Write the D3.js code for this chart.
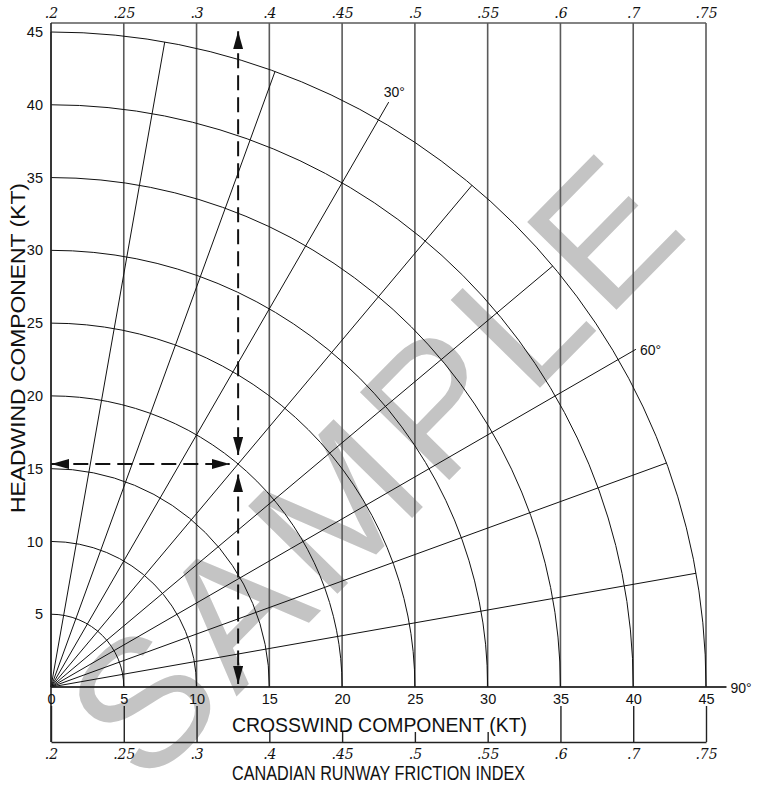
<!DOCTYPE html>
<html>
<head>
<meta charset="utf-8">
<script src="https://cdn.jsdelivr.net/npm/d3@7/dist/d3.min.js"></script>
<style>
  body { margin: 0; background: #fff; }
  text { font-family: "Liberation Sans", Arial, sans-serif; fill: #111; }
</style>
</head>
<body>
<svg id="chart" width="759" height="786"></svg>
<script>
// chart values
const crosswindTicks = [0, 5, 10, 15, 20, 25, 30, 35, 40, 45];
const frictionLabels = ['.2', '.25', '.3', '.4', '.45', '.5', '.55', '.6', '.7', '.75'];
const headwindTicks = [5, 10, 15, 20, 25, 30, 35, 40, 45];
const arcRadii = [5, 10, 15, 20, 25, 30, 35, 40, 45];
const radialAngles = [0, 10, 20, 30, 40, 50, 60, 70, 80, 90];
const labelledAngles = [30, 60, 90];
const exampleWind = {speed: 20, angle: 40};

const svg = d3.select('#chart');
svg.append('rect').attr('width', 759).attr('height', 786).attr('fill', '#fff');

const left = 51, bottom = 687, kt = 655 / 45;
const frameTop = 23, boxBottom = 742;
const maxR = 45, leaderR = 46.4;

const x = d3.scaleLinear().domain([0, 45]).range([left, left + 45 * kt]);
const y = d3.scaleLinear().domain([0, 45]).range([bottom, bottom - 45 * kt]);
const rad = d => d * Math.PI / 180;
const polar = (r, a) => [x(r * Math.sin(rad(a))), y(r * Math.cos(rad(a)))];

// watermark, under everything else
svg.append('text')
  .attr('transform', 'translate(372,466) rotate(-45.5)')
  .attr('text-anchor', 'middle')
  .attr('x', 4).attr('y', 65)
  .style('font-size', '182px')
  .style('letter-spacing', '8px')
  .style('fill', '#c4c4c4')
  .text('SAMPLE');

// vertical crosswind lines
svg.append('g').selectAll('line')
  .data(crosswindTicks.slice(1))
  .join('line')
  .attr('x1', d => x(d)).attr('x2', d => x(d))
  .attr('y1', y(0)).attr('y2', frameTop)
  .attr('stroke', '#5a5a5a').attr('stroke-width', 1.6);

// quarter arcs
svg.append('g').selectAll('path')
  .data(arcRadii)
  .join('path')
  .attr('d', d => {
    const p = d3.path();
    const r = x(d) - x(0);
    p.moveTo(x(0), y(0) - r);
    p.arc(x(0), y(0), r, -Math.PI / 2, 0);
    return p.toString();
  })
  .attr('fill', 'none').attr('stroke', '#111').attr('stroke-width', 1);

// radial wind-angle lines
svg.append('g').selectAll('line')
  .data(radialAngles)
  .join('line')
  .attr('x1', x(0)).attr('y1', y(0))
  .attr('x2', d => polar(labelledAngles.includes(d) ? leaderR : maxR, d)[0])
  .attr('y2', d => polar(labelledAngles.includes(d) ? leaderR : maxR, d)[1])
  .attr('stroke', '#111').attr('stroke-width', 1);

// angle labels
svg.append('g').selectAll('text')
  .data(labelledAngles)
  .join('text')
  .attr('x', d => polar(leaderR, d)[0] + (d === 30 ? -5 : 4))
  .attr('y', d => polar(leaderR, d)[1] + (d === 30 ? -5 : 6))
  .style('font-size', '14px')
  .text(d => d + '°');

// frame lines
svg.append('line').attr('x1', x(0)).attr('x2', x(45)).attr('y1', frameTop).attr('y2', frameTop)
  .attr('stroke', '#5a5a5a').attr('stroke-width', 1.6);
svg.append('line').attr('x1', x(0)).attr('x2', x(0)).attr('y1', frameTop).attr('y2', boxBottom)
  .attr('stroke', '#222').attr('stroke-width', 1.6);
svg.append('line').attr('x1', x(0)).attr('x2', polar(leaderR, 90)[0]).attr('y1', y(0)).attr('y2', y(0))
  .attr('stroke', '#222').attr('stroke-width', 1.6);

// axes
const yAxis = svg.append('g')
  .attr('transform', `translate(${left},0)`)
  .call(d3.axisLeft(y).tickValues(headwindTicks).tickSize(0).tickPadding(8));
const topAxis = svg.append('g')
  .attr('transform', `translate(0,${frameTop})`)
  .call(d3.axisTop(x).tickValues(crosswindTicks).tickFormat((d, i) => frictionLabels[i]).tickSize(0).tickPadding(5));
const xAxis = svg.append('g')
  .attr('transform', `translate(0,${bottom})`)
  .call(d3.axisBottom(x).tickValues(crosswindTicks).tickSize(0).tickPadding(7));
const frictionAxis = svg.append('g')
  .attr('transform', `translate(0,${boxBottom})`)
  .call(d3.axisBottom(x).tickValues(crosswindTicks).tickFormat((d, i) => frictionLabels[i])
    .tickSizeInner(-36).tickSizeOuter(0).tickPadding(7));

[yAxis, topAxis, xAxis].forEach(g => g.select('.domain').remove());
frictionAxis.select('.domain').attr('stroke', '#222').attr('stroke-width', 1.6);
frictionAxis.selectAll('.tick line').attr('stroke', '#222').attr('stroke-width', 1.4);

[yAxis, xAxis].forEach(g => g.selectAll('text')
  .style('font-family', '"Liberation Sans", Arial, sans-serif').style('font-size', '14.5px').attr('fill', '#111'));
[topAxis, frictionAxis].forEach(g => g.selectAll('text')
  .style('font-family', '"DejaVu Serif", serif').style('font-style', 'italic').style('font-size', '14px').attr('fill', '#111'));

// axis titles
svg.append('rect').attr('x', 228).attr('y', 705).attr('width', 304).attr('height', 27).attr('fill', '#fff');
svg.append('text')
  .attr('x', 379.5).attr('y', 732).attr('text-anchor', 'middle')
  .attr('textLength', 295).attr('lengthAdjust', 'spacingAndGlyphs')
  .style('font-size', '21px')
  .text('CROSSWIND COMPONENT (KT)');
svg.append('text')
  .attr('x', 378.5).attr('y', 780).attr('text-anchor', 'middle')
  .attr('textLength', 293).attr('lengthAdjust', 'spacingAndGlyphs')
  .style('font-size', '19.5px')
  .text('CANADIAN RUNWAY FRICTION INDEX');
svg.append('text')
  .attr('transform', 'translate(25,348) rotate(-90)')
  .attr('text-anchor', 'middle')
  .attr('textLength', 330).attr('lengthAdjust', 'spacingAndGlyphs')
  .style('font-size', '21px')
  .text('HEADWIND COMPONENT (KT)');

// worked example: dashed double-headed arrows
const cw = exampleWind.speed * Math.sin(rad(exampleWind.angle));
const hw = exampleWind.speed * Math.cos(rad(exampleWind.angle));
const arrows = [
  {from: [cw, 45.05], to: [cw, hw + 0.62]},
  {from: [cw, hw - 0.72], to: [cw, 0.2]},
  {from: [0.02, hw], to: [cw - 0.58, hw]}
];

const defs = svg.append('defs');
defs.append('marker')
  .attr('id', 'head')
  .attr('viewBox', '0 0 18 10')
  .attr('refX', 18).attr('refY', 5)
  .attr('markerWidth', 18).attr('markerHeight', 10)
  .attr('markerUnits', 'userSpaceOnUse')
  .attr('orient', 'auto-start-reverse')
  .append('path').attr('d', 'M0,0L18,5L0,10Z').attr('fill', '#111');

svg.append('g').selectAll('line')
  .data(arrows)
  .join('line')
  .attr('x1', d => x(d.from[0])).attr('y1', d => y(d.from[1]))
  .attr('x2', d => x(d.to[0])).attr('y2', d => y(d.to[1]))
  .attr('stroke', '#111').attr('stroke-width', 2)
  .attr('stroke-dasharray', '15,7')
  .attr('marker-start', 'url(#head)')
  .attr('marker-end', 'url(#head)');
</script>
</body>
</html>
